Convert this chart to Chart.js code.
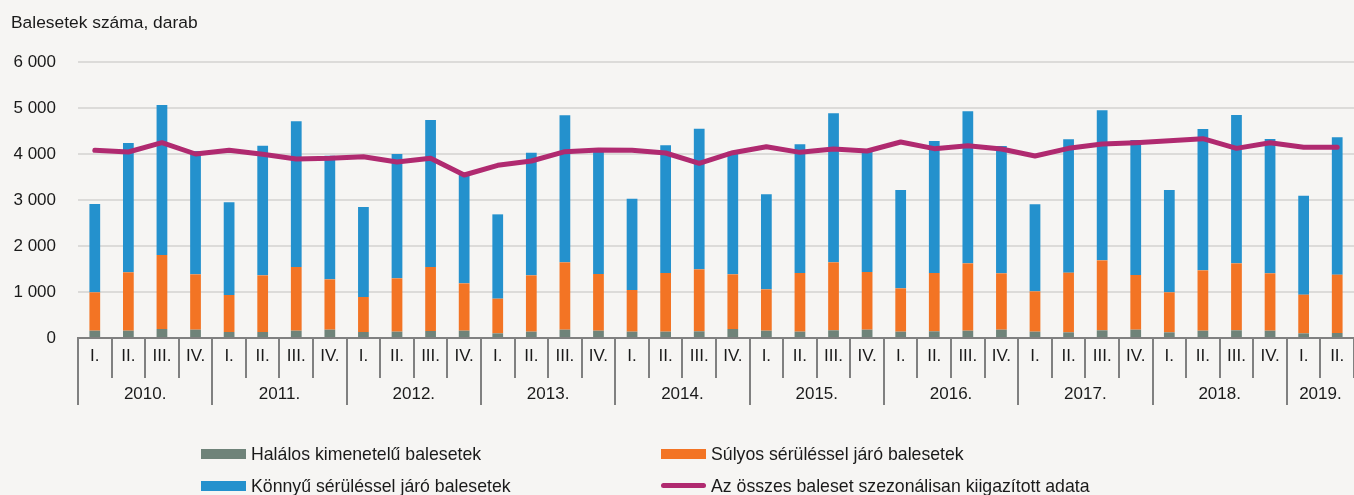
<!DOCTYPE html>
<html>
<head>
<meta charset="utf-8">
<script src="https://cdn.jsdelivr.net/npm/chart.js@4.4.1/dist/chart.umd.min.js"></script>
<style>
  html, body { margin: 0; padding: 0; background: #f6f5f3; }
  #wrap { position: relative; width: 1354px; height: 495px; font-family: "Liberation Sans", Arial, sans-serif; color: #1a1a1a; }
  #chart { position: absolute; left: 0; top: 0; }
  #ytitle { position: absolute; left: 11px; top: 12px; font-size: 17.4px; line-height: 20px; }
  .leg { position: absolute; font-size: 17.7px; line-height: 20px; white-space: nowrap; }
  .sw { position: absolute; left: -50px; top: 5px; width: 45px; height: 10px; }
  .sw.line { top: 7px; height: 5px; border-radius: 3px; }
</style>
</head>
<body>
<div id="wrap">
  <canvas id="chart" width="1354" height="495"></canvas>
  <div id="ytitle">Balesetek száma, darab</div>
  <div id="legend"></div>
</div>
<script>
// years and quarters on the x axis
const years = ['2010.', '2011.', '2012.', '2013.', '2014.', '2015.', '2016.', '2017.', '2018.', '2019.'];
const quartersPerYear = [4, 4, 4, 4, 4, 4, 4, 4, 4, 2];
const quarterNames = ['I.', 'II.', 'III.', 'IV.'];

// accidents per quarter
const fatal = [159, 159, 196, 181, 130, 130, 159, 181, 130, 138, 152, 159, 101, 138, 181, 159, 138, 138, 145, 196,
  159, 138, 167, 181, 138, 145, 159, 181, 138, 123, 167, 181, 123, 159, 167, 159, 101, 109];
const serious = [834, 1269, 1608, 1203, 805, 1232, 1384, 1094, 761, 1159, 1391, 1029, 754, 1224, 1464, 1232, 905, 1275, 1348, 1188,
  899, 1275, 1478, 1254, 942, 1268, 1464, 1225, 876, 1297, 1521, 1189, 870, 1312, 1456, 1247, 841, 1268];
const light = [1920, 2811, 3261, 2681, 2014, 2819, 3167, 2689, 1957, 2703, 3196, 2392, 1833, 2667, 3196, 2725, 1986, 2775, 3058, 2667,
  2065, 2797, 3239, 2608, 2137, 2870, 3305, 2768, 1892, 2899, 3261, 2934, 2224, 3072, 3225, 2920, 2152, 2985];
const seasonalAdj = [4080, 4043, 4246, 4000, 4080, 3993, 3891, 3906, 3942, 3826, 3906, 3543, 3754, 3848, 4051, 4087, 4080, 4022, 3797, 4029,
  4159, 4036, 4109, 4065, 4261, 4116, 4181, 4109, 3957, 4123, 4217, 4246, 4290, 4333, 4123, 4246, 4145, 4145];

const yTicks = [0, 1000, 2000, 3000, 4000, 5000, 6000];

let labels = [];
let yearStart = [];
for (let i = 0; i < years.length; i++) {
  yearStart.push(labels.length);
  for (let q = 0; q < quartersPerYear[i]; q++) labels.push(quarterNames[q]);
}

const FONT = '"Liberation Sans", Arial, sans-serif';
const AXIS = '#808080';

const fmt = (v) => v.toString().replace(/\B(?=(\d{3})+(?!\d))/g, ' ');

// separators below the axis + year labels
const yearAxis = {
  id: 'yearAxis',
  afterDraw(chart) {
    const x = chart.scales.x;
    const ctx = chart.ctx;
    const w = (x.right - x.left) / labels.length;
    const base = chart.chartArea.bottom;
    ctx.save();
    ctx.strokeStyle = AXIS;
    ctx.lineWidth = 2;
    for (let i = 0; i <= labels.length; i++) {
      let px = Math.round(x.left + i * w);
      let isYear = yearStart.indexOf(i) !== -1;
      ctx.beginPath();
      ctx.moveTo(px, base);
      ctx.lineTo(px, isYear ? base + 67 : base + 40);
      ctx.stroke();
    }
    ctx.fillStyle = '#1a1a1a';
    ctx.font = '17px ' + FONT;
    ctx.textAlign = 'center';
    ctx.textBaseline = 'middle';
    for (let i = 0; i < years.length; i++) {
      let cx = x.left + (yearStart[i] + quartersPerYear[i] / 2) * w;
      ctx.fillText(years[i], cx, base + 56);
    }
    ctx.restore();
  }
};

const datasets = [
  { type: 'line', label: 'Az összes baleset szezonálisan kiigazított adata', data: seasonalAdj,
    borderColor: '#b02a70', backgroundColor: '#b02a70', borderWidth: 5, pointRadius: 0,
    borderJoinStyle: 'round', borderCapStyle: 'round', tension: 0, stack: 'line', order: 0 },
  { label: 'Halálos kimenetelű balesetek', data: fatal, backgroundColor: '#6f8379', order: 1 },
  { label: 'Súlyos sérüléssel járó balesetek', data: serious, backgroundColor: '#f37424', order: 1 },
  { label: 'Könnyű sérüléssel járó balesetek', data: light, backgroundColor: '#2491cd', order: 1 }
];

new Chart(document.getElementById('chart'), {
  type: 'bar',
  data: { labels: labels, datasets: datasets },
  options: {
    responsive: false,
    animation: false,
    layout: { padding: { left: 0, right: 0, top: 62, bottom: 97 } },
    datasets: { bar: { barPercentage: 0.32, categoryPercentage: 1 } },
    plugins: { legend: { display: false }, tooltip: { enabled: false }, title: { display: false } },
    scales: {
      x: {
        stacked: true,
        offset: true,
        afterFit: (s) => { s.height = 60; },
        grid: { display: false, drawTicks: false },
        border: { display: true, color: AXIS, width: 2 },
        ticks: { color: '#1a1a1a', font: { family: FONT, size: 17 }, padding: 8, maxRotation: 0, autoSkip: false }
      },
      y: {
        stacked: true,
        min: 0,
        max: 6000,
        afterFit: (s) => { s.width = 78; },
        afterBuildTicks: (s) => { s.ticks = yTicks.map(v => ({ value: v })); },
        grid: { color: '#dcdbd9', lineWidth: 2, drawTicks: false },
        border: { display: false },
        ticks: { color: '#1a1a1a', font: { family: FONT, size: 17 }, padding: 22, callback: (v) => fmt(v) }
      }
    }
  },
  plugins: [yearAxis]
});

// legend in two columns
const legendPos = [
  { ds: 1, left: 251, top: 444 },
  { ds: 2, left: 711, top: 444 },
  { ds: 3, left: 251, top: 476 },
  { ds: 0, left: 711, top: 476 }
];
const legend = document.getElementById('legend');
legendPos.forEach(p => {
  const d = datasets[p.ds];
  const item = document.createElement('div');
  item.className = 'leg';
  item.style.left = p.left + 'px';
  item.style.top = p.top + 'px';
  const sw = document.createElement('span');
  sw.className = 'sw' + (d.type === 'line' ? ' line' : '');
  sw.style.background = d.backgroundColor;
  item.appendChild(sw);
  item.appendChild(document.createTextNode(d.label));
  legend.appendChild(item);
});
</script>
</body>
</html>
